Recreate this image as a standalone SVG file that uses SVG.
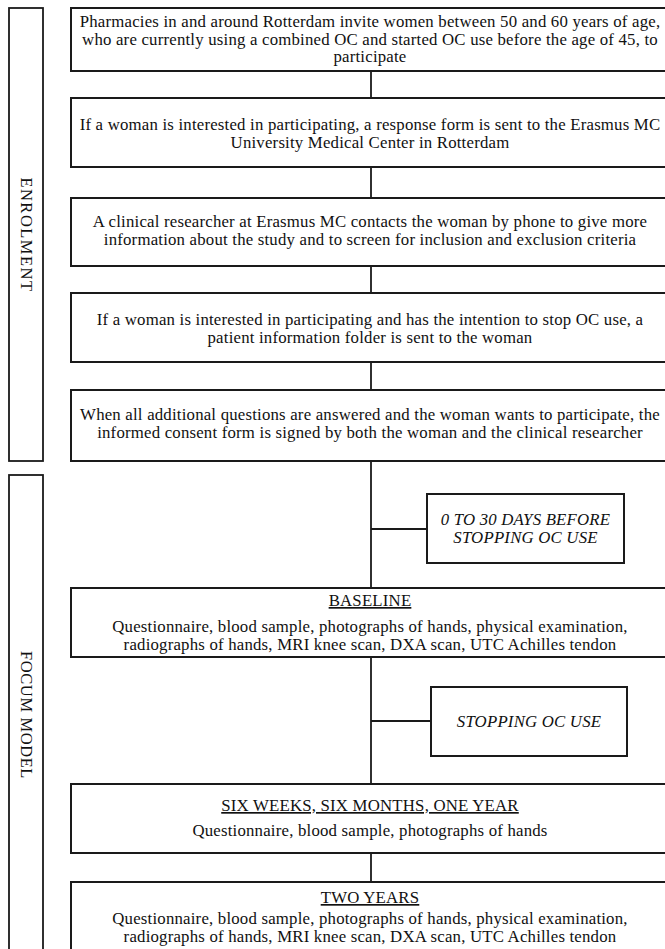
<svg xmlns="http://www.w3.org/2000/svg" width="665" height="949" viewBox="0 0 665 949">
<style>
.box{fill:#fff;stroke:#1a1a1a;stroke-width:2}
.side{fill:#fff;stroke:#1a1a1a;stroke-width:1.8}
.ln{stroke:#1a1a1a;stroke-width:1.8;fill:none}
.it{font-style:italic}
.u{text-decoration:underline}
</style>
<rect width="665" height="949" fill="#fff"/>
<g id="connectors">
<line class="ln" x1="371" y1="71" x2="371" y2="98"/>
<line class="ln" x1="371" y1="167" x2="371" y2="198"/>
<line class="ln" x1="371" y1="266" x2="371" y2="293"/>
<line class="ln" x1="371" y1="362" x2="371" y2="390"/>
<line class="ln" x1="371" y1="461" x2="371" y2="588"/>
<line class="ln" x1="371" y1="529" x2="427" y2="529"/>
<line class="ln" x1="371" y1="657" x2="371" y2="784"/>
<line class="ln" x1="371" y1="721" x2="431" y2="721"/>
<line class="ln" x1="371" y1="853" x2="371" y2="882"/>
</g>
<g font-family="Liberation Serif, Times New Roman, DejaVu Serif, serif" font-size="16.8" letter-spacing="0.2" fill="#111" text-anchor="middle">
<g id="enrolment">
<rect class="side" x="9" y="8" width="34" height="453"/>
<text transform="translate(21,235) rotate(90)" font-size="16.5" letter-spacing="1.5">ENROLMENT</text>
</g>
<g id="focum">
<rect class="side" x="9" y="475" width="34" height="490"/>
<text transform="translate(21,715) rotate(90)" font-size="16.5" letter-spacing="0.6">FOCUM MODEL</text>
</g>
<g id="n1">
<rect class="box" x="71" y="8" width="600" height="63"/>
<text x="370" y="27">Pharmacies in and around Rotterdam invite women between 50 and 60 years of age,</text>
<text x="370" y="44.5">who are currently using a combined OC and started OC use before the age of 45, to</text>
<text x="370" y="62">participate</text>
</g>
<g id="n2">
<rect class="box" x="71" y="98" width="600" height="69"/>
<text x="370" y="130">If a woman is interested in participating, a response form is sent to the Erasmus MC</text>
<text x="370" y="147.5">University Medical Center in Rotterdam</text>
</g>
<g id="n3">
<rect class="box" x="71" y="198" width="600" height="68"/>
<text x="370" y="227">A clinical researcher at Erasmus MC contacts the woman by phone to give more</text>
<text x="370" y="244.5">information about the study and to screen for inclusion and exclusion criteria</text>
</g>
<g id="n4">
<rect class="box" x="71" y="293" width="600" height="69"/>
<text x="370" y="325">If a woman is interested in participating and has the intention to stop OC use, a</text>
<text x="370" y="342.5">patient information folder is sent to the woman</text>
</g>
<g id="n5">
<rect class="box" x="71" y="390" width="600" height="71"/>
<text x="370" y="420">When all additional questions are answered and the woman wants to participate, the</text>
<text x="370" y="437.5">informed consent form is signed by both the woman and the clinical researcher</text>
</g>
<g id="n6">
<rect class="box" x="427" y="494" width="197" height="69"/>
<text class="it" x="525.5" y="525">0 TO 30 DAYS BEFORE</text>
<text class="it" x="525.5" y="543">STOPPING OC USE</text>
</g>
<g id="n7">
<rect class="box" x="71" y="588" width="600" height="69"/>
<text class="u" x="370" y="606">BASELINE</text>
<text x="370" y="631.5">Questionnaire, blood sample, photographs of hands, physical examination,</text>
<text x="370" y="649.5">radiographs of hands, MRI knee scan, DXA scan, UTC Achilles tendon</text>
</g>
<g id="n8">
<rect class="box" x="431" y="687" width="196" height="69"/>
<text class="it" x="529" y="727">STOPPING OC USE</text>
</g>
<g id="n9">
<rect class="box" x="71" y="784" width="600" height="69"/>
<text class="u" x="370" y="811">SIX WEEKS, SIX MONTHS, ONE YEAR</text>
<text x="370" y="836">Questionnaire, blood sample, photographs of hands</text>
</g>
<g id="n10">
<rect class="box" x="71" y="882" width="600" height="80"/>
<text class="u" x="370" y="903">TWO YEARS</text>
<text x="370" y="923.5">Questionnaire, blood sample, photographs of hands, physical examination,</text>
<text x="370" y="941.5">radiographs of hands, MRI knee scan, DXA scan, UTC Achilles tendon</text>
</g>
</g>
</svg>
